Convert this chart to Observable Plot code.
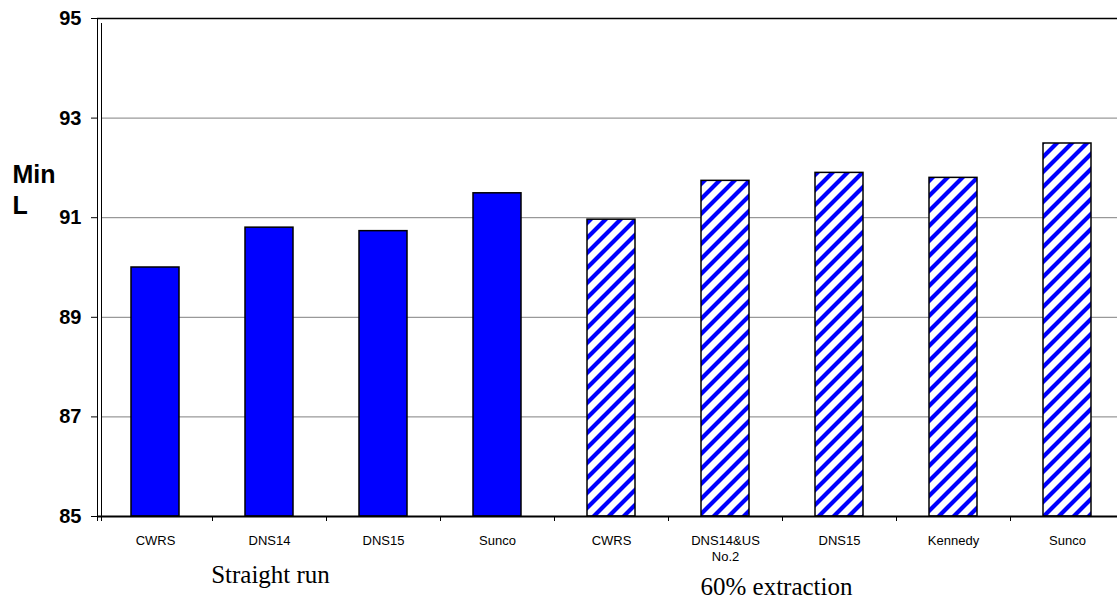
<!DOCTYPE html>
<html><head><meta charset="utf-8">
<script src="https://cdn.jsdelivr.net/npm/d3@7"></script>
<script src="https://cdn.jsdelivr.net/npm/@observablehq/plot@0.6"></script>
<style>html,body{margin:0;padding:0;background:#fff;overflow:hidden}</style>
</head><body><div id="chart"></div>
<script>
// ---- data ----
const labels = ["CWRS", "DNS14", "DNS15", "Sunco", "CWRS", "DNS14&US\nNo.2", "DNS15", "Kennedy", "Sunco"];
const groups = ["Straight run", "Straight run", "Straight run", "Straight run",
                "60% extraction", "60% extraction", "60% extraction", "60% extraction", "60% extraction"];
const values = [90.0, 90.8, 90.73, 91.49, 90.96, 91.74, 91.9, 91.8, 92.49];
const yTicks = [85, 87, 89, 91, 93, 95];
const groupLabels = ["Straight run", "60% extraction"];
const groupAnchor = [1, 5];     // category under which each group label sits
const groupDx = [1, 51];
const groupDy = [66, 78];
const yTitle = "Min\nL";

// ---- layout ----
const W = 1117, H = 600, mL = 97, mT = 18, mB = 84;
const xRange = [98, 1124];
const SANS = "'Liberation Sans', Arial, sans-serif";
const SERIF = "'Liberation Serif', 'Times New Roman', serif";

const data = values.map((v, i) => ({key: i, label: labels[i], group: groups[i], value: v, base: yTicks[0]}));

function hatchDefs() {
  const defs = d3.create("svg:defs");
  const p = defs.append("pattern").attr("id", "hatch").attr("patternUnits", "userSpaceOnUse")
    .attr("width", 15).attr("height", 15);
  p.append("rect").attr("width", 15).attr("height", 15).attr("fill", "white");
  p.append("path").attr("d", "M-3.75,3.75L3.75,-3.75M0,15L15,0M11.25,18.75L18.75,11.25")
    .attr("stroke", "#0000FF").attr("stroke-width", 4.2);
  return defs.node();
}

function axisDecor(index, scales, vals, dims) {
  const d = dims || {};
  const left = d.marginLeft ?? mL, top = d.marginTop ?? mT;
  const bottom = (d.height ?? H) - (d.marginBottom ?? mB);
  const g = d3.create("svg:g").attr("stroke", "black").attr("fill", "none").attr("stroke-width", 1);
  g.append("line").attr("x1", left + 0.5).attr("x2", left + 0.5).attr("y1", top).attr("y2", bottom + 5);
  g.append("line").attr("x1", left + 4.5).attr("x2", left + 4.5).attr("y1", top + 5).attr("y2", bottom + 5);
  const x = scales.x;
  const step = x.step ? x.step() : (xRange[1] - xRange[0]) / labels.length;
  const bw = x.bandwidth ? x.bandwidth() : step * 0.42;
  for (let i = 1; i < labels.length; i++) {
    const bx = Math.round(x(i) - (step - bw) / 2) + 0.5;
    g.append("line").attr("x1", bx).attr("x2", bx).attr("y1", bottom).attr("y2", bottom + 5);
  }
  return g.node();
}

const groupMarks = groupLabels.map((g, i) =>
  Plot.text([{text: g, key: groupAnchor[i]}], {x: "key", text: "text", frameAnchor: "bottom",
    dx: groupDx[i], dy: groupDy[i], fontFamily: SERIF, fontSize: 25, fill: "black"}));

const chart = Plot.plot({
  width: W, height: H,
  marginLeft: mL, marginTop: mT, marginBottom: mB, marginRight: 0,
  style: {fontFamily: SANS, color: "black", background: "white", overflow: "hidden"},
  x: {type: "band", domain: data.map(d => d.key), range: xRange, paddingInner: 0.58, paddingOuter: 0.29, axis: null},
  y: {domain: [yTicks[0], yTicks[yTicks.length - 1]], axis: null},
  marks: [
    hatchDefs,
    Plot.ruleY(yTicks.slice(1, -1), {stroke: "#808080", strokeWidth: 1, insetLeft: 4}),
    Plot.ruleY([yTicks[yTicks.length - 1]], {stroke: "black", strokeWidth: 1.5}),
    Plot.barY(data.filter(d => d.group === groups[0]), {x: "key", y1: "base", y2: "value", fill: "#0000FF", stroke: "black", strokeWidth: 1.5}),
    Plot.barY(data.filter(d => d.group !== groups[0]), {x: "key", y1: "base", y2: "value", fill: "url(#hatch)", stroke: "black", strokeWidth: 1.5}),
    Plot.ruleY([yTicks[0]], {stroke: "black", strokeWidth: 2}),
    axisDecor,
    Plot.axisY({ticks: yTicks, tickSize: 6, tickPadding: 10, fontSize: 20, fontWeight: "bold", stroke: "black", fill: "black", label: null}),
    Plot.axisX({tickFormat: i => labels[i], tickSize: 0, tickPadding: 16, fontSize: 13, fill: "black", lineHeight: 1.3, label: null}),
    Plot.text([yTitle], {text: d => d, frameAnchor: "top-left", dx: -85, dy: 142, textAnchor: "start", lineAnchor: "top",
      fontSize: 25, fontWeight: "bold", lineHeight: 1.24, fill: "black"}),
    ...groupMarks
  ]
});
document.getElementById("chart").appendChild(chart);
</script></body></html>
